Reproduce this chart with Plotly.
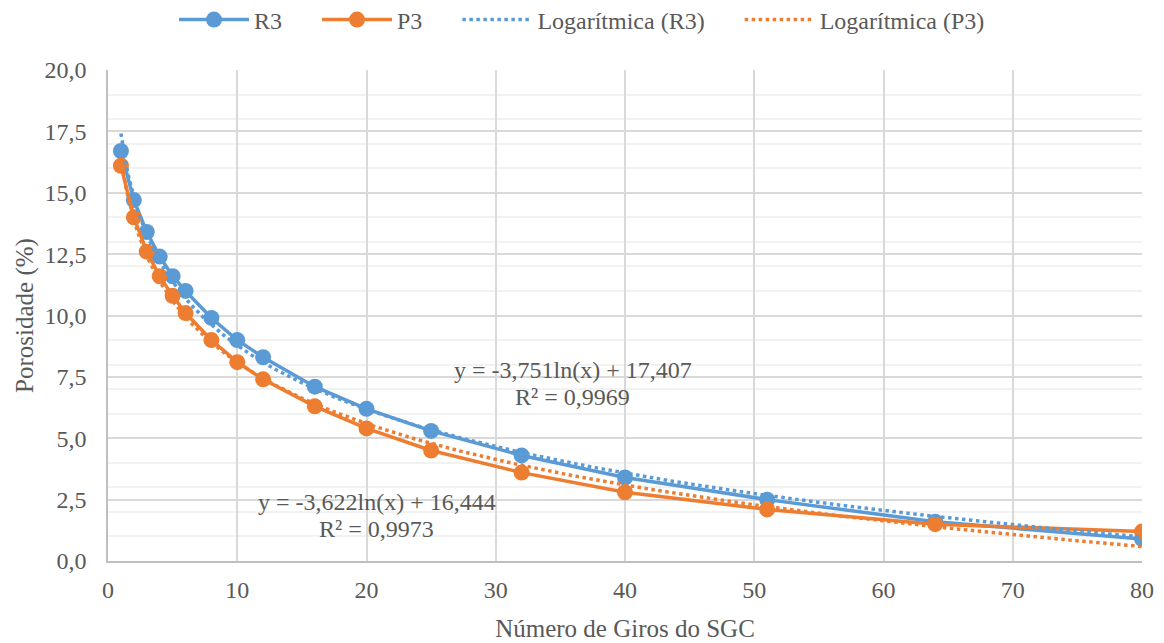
import numpy as np
import plotly.graph_objects as go

giros = [1, 2, 3, 4, 5, 6, 8, 10, 12, 16, 20, 25, 32, 40, 51, 64, 80]
r3 = [16.7, 14.7, 13.4, 12.4, 11.6, 11.0, 9.9, 9.0, 8.3, 7.1, 6.2, 5.3, 4.3, 3.4, 2.5, 1.6, 0.9]
p3 = [16.1, 14.0, 12.6, 11.6, 10.8, 10.1, 9.0, 8.1, 7.4, 6.3, 5.4, 4.5, 3.6, 2.8, 2.1, 1.5, 1.2]
eq_r3 = ["y = -3,751ln(x) + 17,407", "R² = 0,9969"]
eq_p3 = ["y = -3,622ln(x) + 16,444", "R² = 0,9973"]

BLUE = "#5B9BD5"
ORANGE = "#ED7D31"
TXT = "#595959"
FONT = "Liberation Serif, Times New Roman, serif"
PAD = "\u00a0" * 5

# logarithmic trendlines (least squares fit on ln(x), as Excel does)
xs = np.linspace(1, 80, 400)
a_r, b_r = np.polyfit(np.log(giros), r3, 1)
a_p, b_p = np.polyfit(np.log(giros), p3, 1)

fig = go.Figure()
fig.add_trace(go.Scatter(x=giros, y=r3, name="R3" + PAD, mode="lines+markers",
                         line=dict(color=BLUE, width=3.5), marker=dict(size=16, color=BLUE)))
fig.add_trace(go.Scatter(x=giros, y=p3, name="P3" + PAD, mode="lines+markers",
                         line=dict(color=ORANGE, width=3.5), marker=dict(size=16, color=ORANGE)))
fig.add_trace(go.Scatter(x=xs, y=a_r * np.log(xs) + b_r, name="Logarítmica (R3)" + PAD, mode="lines",
                         line=dict(color=BLUE, width=3.5, dash="dot")))
fig.add_trace(go.Scatter(x=xs, y=a_p * np.log(xs) + b_p, name="Logarítmica (P3)", mode="lines",
                         line=dict(color=ORANGE, width=3.5, dash="dot")))

ann_font = dict(family=FONT, size=24, color=TXT)
for txt, xv, yv in [(eq_r3[0], 35.96, 7.79), (eq_r3[1], 35.96, 6.69),
                    (eq_p3[0], 20.8, 2.41), (eq_p3[1], 20.8, 1.31)]:
    fig.add_annotation(x=xv, y=yv, xref="x", yref="y", text=txt, showarrow=False,
                       font=ann_font, xanchor="center", yanchor="middle")

fig.update_layout(
    width=1164, height=643,
    margin=dict(l=108, r=22, t=70, b=82),
    paper_bgcolor="white", plot_bgcolor="white",
    separators=",.",
    font=dict(family=FONT, size=24, color=TXT),
    showlegend=True,
    legend=dict(orientation="h", x=0.5, xanchor="center", xref="container",
                y=0.969, yanchor="middle", yref="container", itemwidth=70,
                font=dict(family=FONT, size=24, color=TXT)),
    xaxis=dict(range=[0, 80], dtick=10, tick0=0, showgrid=True, gridcolor="#D9D9D9", gridwidth=1.5,
               showline=True, linecolor="#BFBFBF", linewidth=1.5, zeroline=False,
               ticks="", ticklabelstandoff=6, automargin=False,
               tickfont=dict(family=FONT, size=24, color=TXT),
               title=dict(text="Número de Giros do SGC", font=dict(family=FONT, size=25, color=TXT), standoff=18)),
    yaxis=dict(range=[0, 20], dtick=2.5, tick0=0, tickformat=".1f", showgrid=True,
               gridcolor="#D9D9D9", gridwidth=1.5,
               minor=dict(dtick=1, tick0=0, showgrid=True, gridcolor="#F2F2F2", gridwidth=1.5),
               showline=True, linecolor="#BFBFBF", linewidth=1.5, zeroline=False,
               ticks="", ticklabelstandoff=15, automargin=False,
               tickfont=dict(family=FONT, size=24, color=TXT),
               title=dict(text="Porosidade (%)", font=dict(family=FONT, size=25, color=TXT), standoff=4)),
)

fig.write_html("out.html")
